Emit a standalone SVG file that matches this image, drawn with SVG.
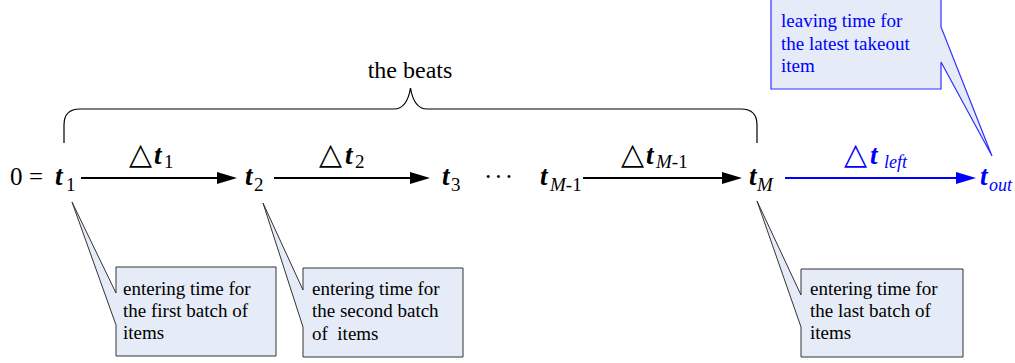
<svg xmlns="http://www.w3.org/2000/svg" width="1015" height="363" viewBox="0 0 1015 363">
<style>
.m{font-family:"Liberation Serif","Times New Roman",serif;font-size:25px;fill:#000}
.t{font-style:italic;font-weight:bold;font-size:27px}
.it{font-style:italic}
.sub{font-size:19px}
.tri{font-family:"DejaVu Sans",sans-serif;font-size:30px}
.note{font-family:"Liberation Serif","Times New Roman",serif;font-size:19px;fill:#000}
.bnote{fill:#0000ff}
.box{fill:#e6ecf7;stroke:#333;stroke-width:1}
.bbox{fill:#e6ecf7;stroke:#3030ff;stroke-width:1.2}
.blue{fill:#0000ff}
</style>
<defs>
<marker id="ah" viewBox="0 0 20 12" refX="0" refY="6" markerWidth="20" markerHeight="12" markerUnits="userSpaceOnUse" orient="auto"><path d="M0,0 L20,6 L0,12 Z" fill="#000"/></marker>
<marker id="ahb" viewBox="0 0 20 12" refX="0" refY="6" markerWidth="21" markerHeight="12" markerUnits="userSpaceOnUse" orient="auto"><path d="M0,0 L20,6 L0,12 Z" fill="#0000ff"/></marker>
</defs>

<g id="brace">
<path d="M64,143 V125 Q64,109 80,109 H394 Q407,109 410.5,88 Q414,109 427,109 H741 Q757,109 757,125 V143" fill="none" stroke="#000" stroke-width="1.2"/>
<text class="m" x="410" y="78" text-anchor="middle" style="font-size:24px">the beats</text>
</g>

<g id="connectors">
<line x1="81" y1="178" x2="217" y2="178" stroke="#000" stroke-width="2" marker-end="url(#ah)"/>
<line x1="274" y1="178" x2="410" y2="178" stroke="#000" stroke-width="2" marker-end="url(#ah)"/>
<line x1="583" y1="178" x2="722" y2="178" stroke="#000" stroke-width="2" marker-end="url(#ah)"/>
<line x1="785" y1="178" x2="956" y2="178" stroke="#0000ff" stroke-width="2.2" marker-end="url(#ahb)"/>
</g>

<g id="labels">
<text class="tri" x="129" y="164">△</text><text class="m t" x="154" y="164">t</text><text class="m sub" x="164" y="168">1</text>
<text class="tri" x="319" y="164">△</text><text class="m t" x="345" y="164">t</text><text class="m sub" x="355" y="168">2</text>
<text class="tri" x="621" y="164">△</text><text class="m t" x="646" y="164">t</text><text class="m sub" x="656" y="168"><tspan class="it">M</tspan>-1</text>
<text class="tri blue" x="844" y="164">△</text><text class="m t blue" x="870" y="164">t</text><text class="m sub it blue" x="884" y="168" style="font-size:18px">left</text>
</g>

<g id="node-t1">
<text class="m" x="10" y="185">0</text>
<text class="m" x="29" y="185">=</text>
<text class="m t" x="55" y="185">t</text><text class="m sub" x="66" y="191">1</text>
</g>
<g id="node-t2"><text class="m t" x="245" y="185">t</text><text class="m sub" x="254" y="191">2</text></g>
<g id="node-t3"><text class="m t" x="442" y="185">t</text><text class="m sub" x="451" y="191">3</text></g>
<g id="node-dots"><text class="m" x="484" y="185" letter-spacing="2">···</text></g>
<g id="node-tM-1"><text class="m t" x="540" y="185">t</text><text class="m sub" x="550" y="191"><tspan class="it">M</tspan>-1</text></g>
<g id="node-tM"><text class="m t" x="749" y="185">t</text><text class="m sub it" x="757" y="191">M</text></g>
<g id="node-tout"><text class="m t blue" x="980" y="185">t</text><text class="m sub it blue" x="989" y="191" style="font-size:18px">out</text></g>

<g id="callout-first">
<path class="box" d="M116,267 H276 V356 H116 V325 L72,202 L116,293 Z"/>
<text class="note" x="123"><tspan x="123" y="295">entering time for</tspan><tspan x="123" y="317">the first batch of</tspan><tspan x="123" y="339">items</tspan></text>
</g>
<g id="callout-second">
<path class="box" d="M303,268 H463 V357 H303 V327 L263,203 L303,290 Z"/>
<text class="note" x="312" xml:space="preserve"><tspan x="312" y="295">entering time for</tspan><tspan x="312" y="317">the second batch</tspan><tspan x="312" y="340">of  items</tspan></text>
</g>
<g id="callout-last">
<path class="box" d="M801,269 H963 V357 H801 V327 L757,201 L801,295 Z"/>
<text class="note" x="810"><tspan x="810" y="295">entering time for</tspan><tspan x="810" y="317">the last batch of</tspan><tspan x="810" y="339">items</tspan></text>
</g>
<g id="callout-leaving">
<path class="bbox" d="M771,-1 H941 V27 L992,156 L941,62 V89 H771 Z"/>
<text class="note bnote"><tspan x="781" y="27">leaving time for</tspan><tspan x="781" y="49.5">the latest takeout</tspan><tspan x="781" y="72">item</tspan></text>
</g>
</svg>
